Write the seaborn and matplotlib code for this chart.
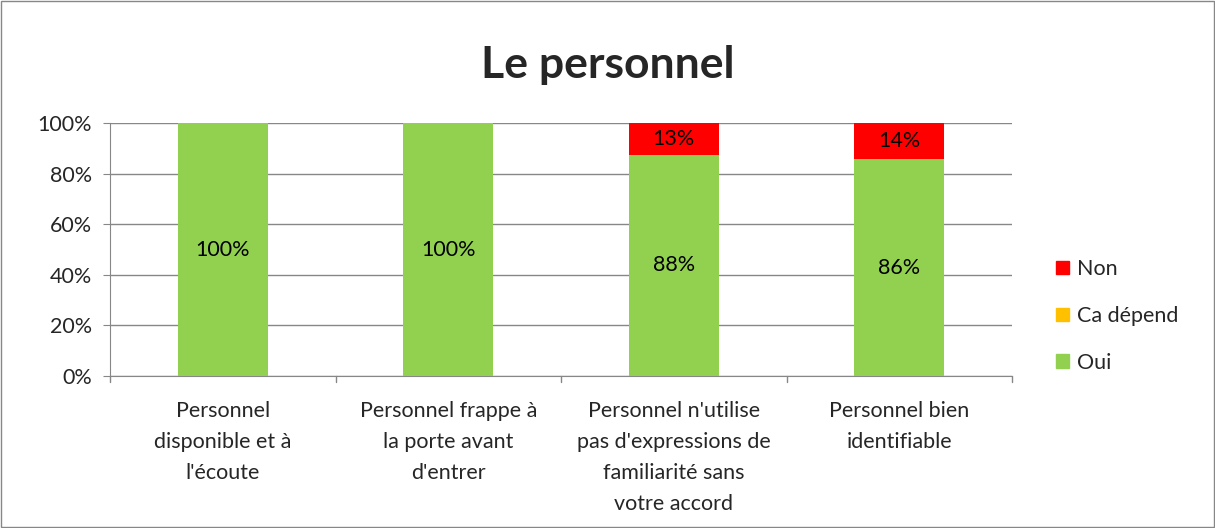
import numpy as np
import pandas as pd
import matplotlib
matplotlib.use('Agg')
import matplotlib.pyplot as plt
import seaborn as sns
from matplotlib.patches import Patch

categories = [
    "Personnel\ndisponible et à\nl'écoute",
    "Personnel frappe à\nla porte avant\nd'entrer",
    "Personnel n'utilise\npas d'expressions de\nfamiliarité sans\nvotre accord",
    "Personnel bien\nidentifiable",
]
oui = [100.0, 100.0, 87.5, 85.7]
ca_depend = [0.0, 0.0, 0.0, 0.0]
non = [0.0, 0.0, 12.5, 14.3]

colors = {"Oui": "#92D050", "Ca dépend": "#FFC000", "Non": "#FF0000"}

sns.set_style("white")
plt.rcParams['font.family'] = ['Lato', 'DejaVu Sans']

df = pd.DataFrame({"cat": categories, "Oui": oui, "Ca": ca_depend, "Non": non})
df["top_ca"] = df["Oui"] + df["Ca"]
df["top_non"] = df["top_ca"] + df["Non"]

FS = 15.5

fig = plt.figure(figsize=(12.15, 5.28), dpi=100)
ax = fig.add_axes([110 / 1215, 152 / 528, 902 / 1215, 253 / 528])

# stacked bars: draw cumulative totals back to front
for col, name in [("top_non", "Non"), ("top_ca", "Ca dépend"), ("Oui", "Oui")]:
    sns.barplot(data=df, x="cat", y=col, color=colors[name], width=0.4,
                saturation=1, linewidth=0, ax=ax, zorder=3)

def pct(v):
    return f"{int(v + 0.5)}%"

for i in range(len(categories)):
    o, n = oui[i], non[i]
    if o > 0:
        ax.text(i, o / 2, pct(o), ha='center', va='center', fontsize=FS, color='#000000', zorder=5)
    if n > 0:
        ax.text(i, o + ca_depend[i] + n / 2, pct(n), ha='center', va='center',
                fontsize=FS, color='#000000', zorder=5)

ax.set_xlim(-0.5, len(categories) - 0.5)
ax.set_ylim(0, 100)
ax.set_yticks(np.arange(0, 101, 20))
ax.set_yticklabels([f"{v}%" for v in range(0, 101, 20)], fontsize=FS)
ax.yaxis.grid(True, color='#878787', linewidth=1, zorder=0)
ax.set_xlabel("")
ax.set_ylabel("")
ax.set_xticks(range(len(categories)))
ax.set_xticklabels(categories, fontsize=FS, linespacing=1.68)
ax.tick_params(axis='x', length=0, pad=18)
ax.tick_params(axis='y', length=5, color='#878787', direction='out', pad=8, left=True)
# category boundary ticks
for b in np.arange(-0.5, len(categories), 1):
    ax.plot([b, b], [0, -2.2], color='#878787', lw=1, clip_on=False, zorder=4)
for s in ['top', 'right']:
    ax.spines[s].set_visible(False)
ax.spines['left'].set_color('#878787')
ax.spines['bottom'].set_color('#878787')

fig.suptitle("Le personnel", y=0.915, fontsize=32, fontweight='bold')

handles = [Patch(color=colors["Non"], label="Non"),
           Patch(color=colors["Ca dépend"], label="Ca dépend"),
           Patch(color=colors["Oui"], label="Oui")]
fig.legend(handles=handles, loc='center left', bbox_to_anchor=(1037 / 1215, 1 - 316 / 528),
           frameon=False, fontsize=FS, handlelength=0.6, handleheight=0.6,
           handletextpad=0.35, labelspacing=1.25)

fig.patches.append(plt.Rectangle((0.001, 0.001), 0.998, 0.997, transform=fig.transFigure,
                                 fill=False, edgecolor='#878787', lw=1))

fig.savefig("out.png", dpi=100)
